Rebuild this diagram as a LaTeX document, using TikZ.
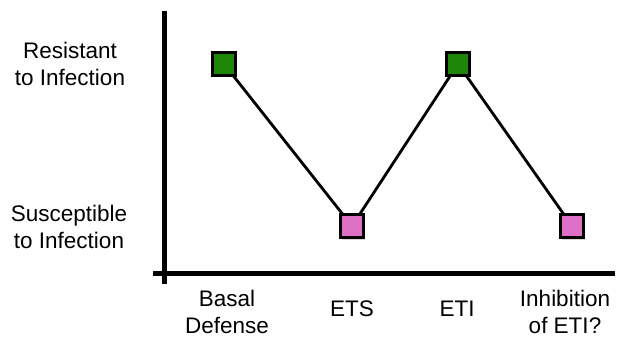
\documentclass[tikz,border=0pt]{standalone}
\usepackage{fontspec}
\setmainfont{Liberation Sans}
\usetikzlibrary{shadows,backgrounds}
\definecolor{resgreen}{RGB}{30,135,10}
\definecolor{suspink}{RGB}{222,112,200}
\begin{document}
\begin{tikzpicture}[x=1pt,y=-1pt,
  lbl/.style={font=\fontsize{22.5}{27}\selectfont,align=center,inner sep=0pt},
  pt/.style={draw=black,line width=3pt,minimum size=23pt,inner sep=0pt,
    drop shadow={shadow xshift=1pt,shadow yshift=-2pt,opacity=0.3}},
  res/.style={pt,fill=resgreen},
  sus/.style={pt,fill=suspink},
  axis/.style={line width=5pt}]
\useasboundingbox (0,0) rectangle (623,339);
\coordinate (ytop) at (164,11);
\coordinate (ybot) at (164,284);
\coordinate (xl) at (153,273);
\coordinate (xr) at (615,273);
\draw[axis] (ytop) -- (ybot);
\draw[axis] (xl) -- (xr);
\node[lbl] (lres) at (70,64) {Resistant\\to Infection};
\node[lbl] (lsus) at (69,227) {Susceptible\\to Infection};
\node[lbl] (lbasal) at (227,312) {Basal\\Defense};
\node[lbl] (lets) at (352,309) {ETS};
\node[lbl] (leti) at (457,309) {ETI};
\node[lbl] (linh) at (565,312) {Inhibition\\of ETI?};
\node[res] (basal) at (224,64) {};
\node[sus] (ets) at (352,226) {};
\node[res] (eti) at (458,64) {};
\node[sus] (inh) at (572,226) {};
\begin{pgfonlayer}{background}
\draw[line width=2.8pt] (basal.center) -- (ets.center) -- (eti.center) -- (inh.center);
\end{pgfonlayer}
\end{tikzpicture}
\end{document}
